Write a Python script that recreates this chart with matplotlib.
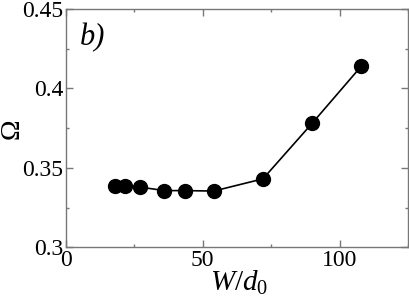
import matplotlib
matplotlib.use("Agg")
import matplotlib.pyplot as plt
from matplotlib.ticker import MultipleLocator

W_d0 = [18, 21.6, 27, 36, 43.5, 54, 72, 90, 108]
omega = [0.3389, 0.3389, 0.3379, 0.3357, 0.3357, 0.3354, 0.3431, 0.3781, 0.4141]

plt.rcParams['font.family'] = ['Liberation Serif', 'DejaVu Serif']
plt.rcParams['mathtext.fontset'] = 'custom'
plt.rcParams['mathtext.rm'] = 'Liberation Serif'
plt.rcParams['mathtext.it'] = 'Liberation Serif:italic'

fig = plt.figure(figsize=(4.09, 3.03), dpi=100)
ax = fig.add_axes([0.1614, 0.1838, 0.836, 0.7865])
ax.plot(W_d0, omega, '-o', color='black', lw=1.2, markersize=10)
ax.set_xlim(0, 125)
ax.set_ylim(0.3, 0.45)
ax.xaxis.set_major_locator(MultipleLocator(50))
ax.xaxis.set_minor_locator(MultipleLocator(25))
ax.yaxis.set_minor_locator(MultipleLocator(0.025))
ax.set_yticks([0.3, 0.35, 0.4, 0.45])
ax.set_yticklabels(['0.3', '0.35', '0.4', '0.45'])
frame = '#777777'
for s in ax.spines.values():
    s.set_color(frame)
    s.set_linewidth(1.0)
ax.tick_params(which='both', direction='in', color=frame, labelsize=17, top=True, right=True)
ax.tick_params(which='major', length=4.8, width=1.0)
ax.tick_params(which='minor', length=2.3, width=1.0)
ax.tick_params(axis='x', pad=2)
ax.tick_params(axis='y', pad=2)
ax.set_xlabel(r'$W/d_0$', fontsize=21)
ax.xaxis.set_label_coords(0.506, -0.09)
ax.set_ylabel('Ω', fontsize=20, va='center')
ax.yaxis.set_label_coords(-0.159, 0.499)
ax.text(0.04, 0.94, 'b)', transform=ax.transAxes, fontsize=22, style='italic', va='top', ha='left')
fig.savefig('out.png', dpi=100)
